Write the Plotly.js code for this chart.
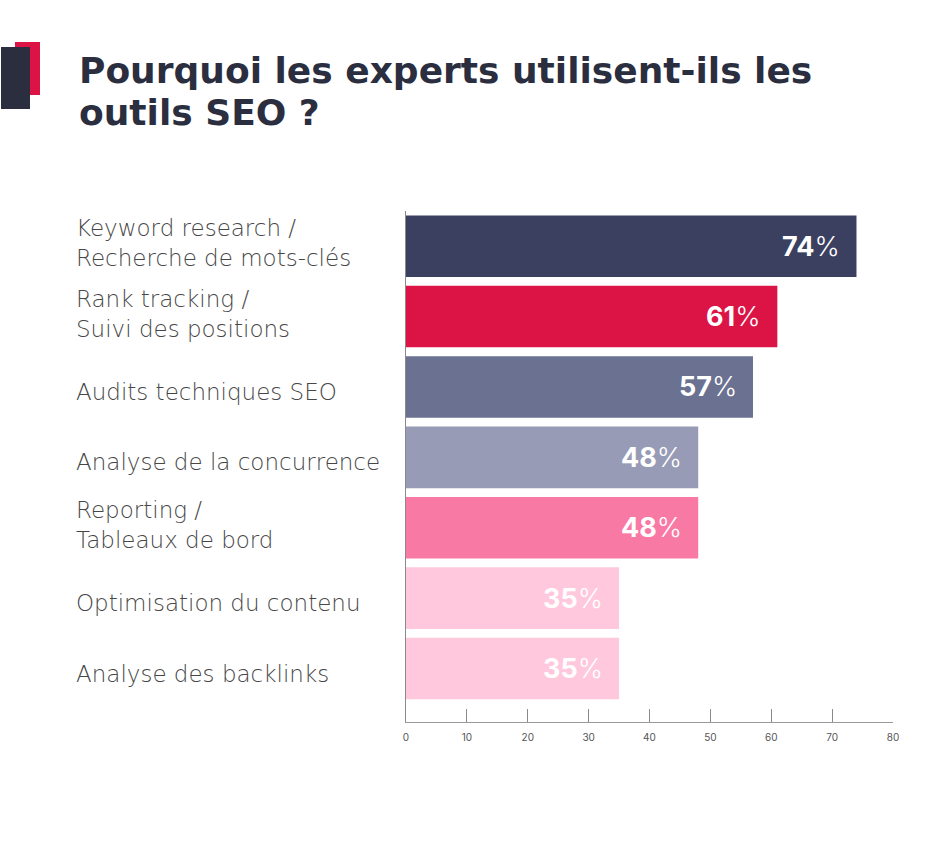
<!DOCTYPE html>
<html>
<head>
<meta charset="utf-8">
<script src="https://cdn.plot.ly/plotly-3.0.1.min.js"></script>
<style>
  html, body { margin: 0; padding: 0; background: #ffffff; }
  #chart { width: 945px; height: 842px; }
</style>
</head>
<body>
<div id="chart"></div>
<script>
// Survey: why SEO experts use SEO tools (share of respondents, %)
const categories = [
  "Keyword research /<br>Recherche de mots-clés",
  "Rank tracking /<br>Suivi des positions",
  "Audits techniques SEO",
  "Analyse de la concurrence",
  "Reporting /<br>Tableaux de bord",
  "Optimisation du contenu",
  "Analyse des backlinks"
];
const values = [74, 61, 57, 48, 48, 35, 35];
const barColors = ["#3b4061", "#dc1446", "#6b7190", "#979bb5", "#f979a5", "#ffc8dc", "#ffc8dc"];
const xTicks = [0, 10, 20, 30, 40, 50, 60, 70, 80];
const titleLines = ["Pourquoi les experts utilisent-ils les", "outils SEO ?"];

const W = 945, H = 842;
const M = { l: 406, r: 52, t: 211, b: 120 };
const plotW = W - M.l - M.r, plotH = H - M.t - M.b;
// convert page pixels to paper coordinates
const px = x => (x - M.l) / plotW;
const py = y => (H - M.b - y) / plotH;

const idx = categories.map((_, i) => i);

const trace = {
  type: "bar",
  orientation: "h",
  x: values,
  y: idx,
  marker: { color: barColors, line: { width: 0 } },
  width: 0.875,
  hoverinfo: "skip"
};

const annotations = [];

// category labels, left aligned
categories.forEach((c, i) => {
  const twoLines = c.indexOf("<br>") >= 0;
  annotations.push({
    xref: "paper", yref: "y",
    x: px(74), y: i, yshift: twoLines ? 3 : -5,
    xanchor: "left", yanchor: "middle", align: "left",
    text: c, showarrow: false,
    font: { family: "DejaVu Sans, sans-serif", size: 23, color: "#474747", weight: 200 }
  });
});

// value labels inside bar ends
values.forEach((v, i) => {
  annotations.push({
    xref: "x", yref: "y",
    x: v, y: i, xshift: -14,
    xanchor: "right", yanchor: "middle",
    text: "<b>" + v + "</b><span style=\"font-weight:300\">%</span>", showarrow: false,
    font: { family: "Inter, sans-serif", size: 27, color: "#ffffff" }
  });
});

// title, two lines
titleLines.forEach((t, i) => {
  annotations.push({
    xref: "paper", yref: "paper",
    x: px(77), y: py(i === 0 ? 48 : 90),
    xanchor: "left", yanchor: "top", align: "left",
    text: "<b>" + t + "</b>", showarrow: false,
    font: { family: "DejaVu Sans, sans-serif", size: 36, color: "#2a2e3f" }
  });
});

const layout = {
  width: W, height: H,
  margin: M,
  paper_bgcolor: "#ffffff",
  plot_bgcolor: "#ffffff",
  showlegend: false,
  xaxis: {
    range: [0, 80],
    tickvals: xTicks,
    ticktext: xTicks.map(String),
    ticks: "inside", ticklen: 13, tickwidth: 1, tickcolor: "#8a8a8a",
    showline: true, linecolor: "#9a9a9a", linewidth: 1,
    showgrid: false, zeroline: false,
    tickfont: { family: "Inter, sans-serif", size: 10, color: "#555555" },
    ticklabelstandoff: 6,
    fixedrange: true
  },
  yaxis: {
    range: [6.76, -0.5],
    showticklabels: false, ticks: "",
    showline: true, linecolor: "#8a8a8a", linewidth: 1,
    showgrid: false, zeroline: false,
    fixedrange: true
  },
  shapes: [
    { type: "rect", xref: "paper", yref: "paper",
      x0: px(15), x1: px(40), y0: py(95), y1: py(42),
      fillcolor: "#dc1446", line: { width: 0 }, layer: "above" },
    { type: "rect", xref: "paper", yref: "paper",
      x0: px(1), x1: px(30), y0: py(109), y1: py(47),
      fillcolor: "#2a2e3f", line: { width: 0 }, layer: "above" }
  ],
  annotations: annotations
};

Plotly.newPlot("chart", [trace], layout, { displayModeBar: false, staticPlot: true });
</script>
</body>
</html>
